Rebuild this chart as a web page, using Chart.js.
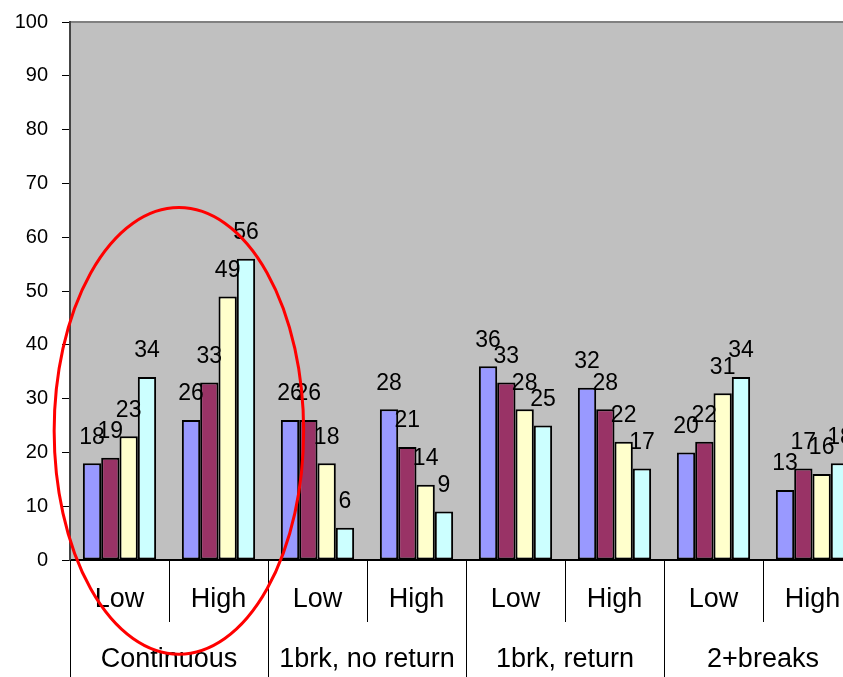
<!DOCTYPE html>
<html>
<head>
  <title>Breaks chart</title>
  <script src="https://cdn.jsdelivr.net/npm/chart.js"></script>
  <style>
    body { margin: 0; background: #fff; }
    #wrap { width: 843px; height: 677px; overflow: hidden; }
  </style>
</head>
<body>
  <div id="wrap"><canvas id="chart" width="880" height="677"></canvas></div>

  <script>
    const subLabels = ['Low', 'High', 'Low', 'High', 'Low', 'High', 'Low', 'High'];
    const groups = ['Continuous', '1brk, no return', '1brk, return', '2+breaks'];
    const series1 = [18, 26, 26, 28, 36, 32, 20, 13];
    const series2 = [19, 33, 26, 21, 33, 28, 22, 17];
    const series3 = [23, 49, 18, 14, 28, 22, 31, 16];
    const series4 = [34, 56, 6, 9, 25, 17, 34, 18];
    const yTicks = [0, 10, 20, 30, 40, 50, 60, 70, 80, 90, 100];

    const font = "'Liberation Sans', Arial, sans-serif";

    // gray plot area + top border
    const plotBg = {
      id: 'plotBg',
      beforeDraw(chart) {
        const { ctx, chartArea: a } = chart;
        ctx.save();
        ctx.fillStyle = '#C0C0C0';
        ctx.fillRect(a.left, a.top, a.right - a.left, a.bottom - a.top);
        ctx.strokeStyle = '#808080';
        ctx.lineWidth = 2;
        ctx.beginPath();
        ctx.moveTo(a.left, a.top);
        ctx.lineTo(a.right, a.top);
        ctx.stroke();
        ctx.restore();
      }
    };

    // value labels, group labels, separators, red ellipse
    const extras = {
      id: 'extras',
      afterDraw(chart) {
        const { ctx, chartArea: a } = chart;
        const x = chart.scales.x, y = chart.scales.y;
        const H = chart.height;
        ctx.save();

        ctx.fillStyle = '#000';
        ctx.font = '23px ' + font;
        ctx.textAlign = 'center';
        ctx.textBaseline = 'middle';
        chart.data.datasets.forEach((ds, i) => {
          chart.getDatasetMeta(i).data.forEach((bar, j) => {
            ctx.fillText(String(ds.data[j]), bar.x, bar.y - 26);
          });
        });

        const step = x.getPixelForValue(1) - x.getPixelForValue(0);
        ctx.strokeStyle = '#000';
        ctx.lineWidth = 1;
        for (let k = 0; k <= subLabels.length; k++) {
          const px = Math.round(x.getPixelForValue(k) - step / 2) + 0.5;
          const long = k % 2 === 0;
          ctx.beginPath();
          ctx.moveTo(px, a.bottom);
          ctx.lineTo(px, long ? H : a.bottom + 62);
          ctx.stroke();
        }

        ctx.font = '27px ' + font;
        groups.forEach((g, k) => {
          const px = (x.getPixelForValue(2 * k) + x.getPixelForValue(2 * k + 1)) / 2;
          ctx.fillText(g, px, a.bottom + 100);
        });

        // annotation ellipse around the first group
        const cx = x.getPixelForValue(0.6);
        const cy = y.getPixelForValue(24);
        const ry = cy - y.getPixelForValue(65.5);
        const rx = step * 1.26;
        ctx.strokeStyle = '#FF0000';
        ctx.lineWidth = 3;
        ctx.beginPath();
        ctx.ellipse(cx, cy, rx, ry, 0, 0, Math.PI * 2);
        ctx.stroke();

        ctx.restore();
      }
    };

    const bar = (data, color) => ({
      data,
      backgroundColor: color,
      borderColor: '#000',
      borderWidth: 2,
      borderSkipped: false,
      categoryPercentage: 0.74,
      barPercentage: 1
    });

    new Chart(document.getElementById('chart'), {
      type: 'bar',
      data: {
        labels: subLabels,
        datasets: [
          bar(series1, '#9999FF'),
          bar(series2, '#993366'),
          bar(series3, '#FFFFCC'),
          bar(series4, '#CCFFFF')
        ]
      },
      options: {
        responsive: false,
        animation: false,
        layout: { padding: { top: 22, right: 18, left: 0, bottom: 0 } },
        plugins: { legend: { display: false }, tooltip: { enabled: false } },
        scales: {
          x: {
            grid: { display: false, drawTicks: false },
            border: { color: '#000', width: 2 },
            ticks: { color: '#000', font: { family: font, size: 27 }, padding: 23, maxRotation: 0 },
            afterFit(s) { s.height = 117; s.paddingLeft = 0; s.paddingRight = 0; }
          },
          y: {
            min: 0,
            max: 100,
            afterBuildTicks(s) { s.ticks = yTicks.map(v => ({ value: v })); },
            grid: { drawOnChartArea: false, color: '#000', tickLength: 8 },
            border: { color: '#444', width: 2 },
            ticks: { color: '#000', font: { family: font, size: 20 }, padding: 14 },
            afterFit(s) { s.width = 70; s.paddingTop = 0; s.paddingBottom = 0; }
          }
        }
      },
      plugins: [plotBg, extras]
    });
  </script>
</body>
</html>
